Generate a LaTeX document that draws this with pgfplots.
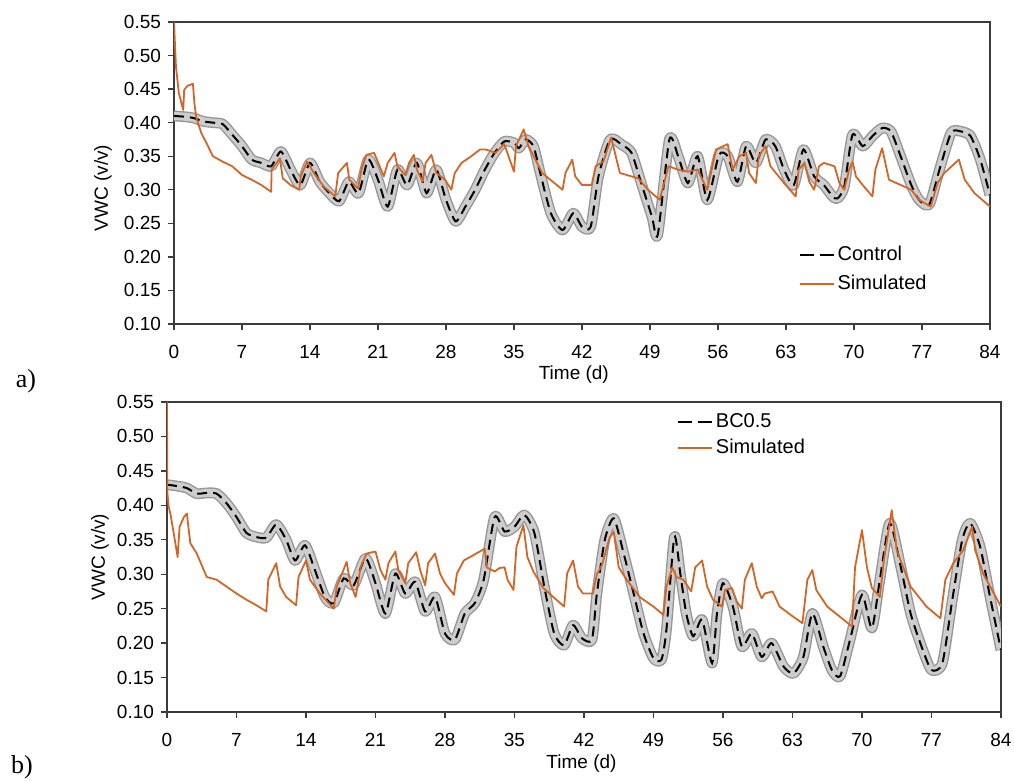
\documentclass[border=0pt]{standalone}
\usepackage{fontspec}
\setmainfont{Liberation Sans}
\newfontfamily\panelfont{Liberation Serif}
\usepackage{pgfplots}
\usepackage{pgfplotstable}
\pgfplotsset{compat=1.18}

\definecolor{simorange}{RGB}{210,102,38}
\definecolor{bandedge}{RGB}{150,150,150}
\definecolor{bandfill}{RGB}{205,205,205}
\definecolor{axisgray}{RGB}{60,60,60}

% measured (Control), panel a
\pgfplotstableread{
x y
0 0.410
1 0.409
2 0.407
3 0.402
4 0.400
5 0.398
6 0.382
7 0.365
8 0.345
9 0.340
10 0.335
11 0.357
12 0.330
13 0.307
14 0.340
15 0.312
16 0.295
17 0.283
18 0.312
19 0.295
20 0.345
21 0.315
22 0.275
23 0.330
24 0.307
25 0.340
26 0.295
27 0.330
28 0.285
29 0.253
30 0.275
31 0.300
32 0.330
33 0.355
34 0.372
35 0.370
35.5 0.362
36.2 0.375
37 0.365
37.7 0.325
38.8 0.265
40 0.240
41.1 0.265
42 0.245
42.9 0.245
43.7 0.320
44.9 0.375
46.1 0.367
47.1 0.355
48.1 0.310
49.2 0.260
49.8 0.233
51 0.375
51.9 0.350
52.9 0.310
53.9 0.350
54.9 0.285
56.1 0.352
57 0.350
58 0.312
58.9 0.365
59.9 0.340
60.9 0.375
61.9 0.365
62.8 0.330
63.8 0.307
64.8 0.360
65.9 0.320
66.9 0.307
67.8 0.290
68.3 0.287
69 0.305
69.85 0.382
70.9 0.365
71.9 0.380
72.9 0.392
73.8 0.387
74.8 0.350
75.9 0.307
76.7 0.285
77.75 0.278
78.8 0.330
80 0.385
81 0.387
82 0.380
83 0.345
84 0.292
}\controldata

% simulated, panel a
\pgfplotstableread{
x y
0 0.550
0.2 0.484
0.5 0.444
0.95 0.419
1.05 0.449
1.4 0.455
1.95 0.458
2.1 0.429
2.3 0.407
2.8 0.385
3.5 0.365
4 0.350
5 0.342
6 0.335
7 0.322
8 0.315
9 0.307
10 0.297
10.05 0.330
10.9 0.347
11.2 0.317
12 0.307
12.9 0.300
13.05 0.320
13.7 0.342
14.4 0.325
15.4 0.305
16.6 0.290
16.9 0.325
17.8 0.340
18.05 0.315
18.95 0.302
19.3 0.330
19.8 0.352
20.6 0.355
21.6 0.320
22 0.340
22.7 0.355
23 0.335
23.8 0.322
24.2 0.340
24.7 0.352
25 0.330
25.6 0.312
25.9 0.340
26.5 0.352
27 0.325
27.9 0.315
28.55 0.300
28.9 0.325
29.6 0.340
30.6 0.350
31.5 0.360
32.1 0.360
33.1 0.355
34 0.368
35 0.327
35.2 0.365
36 0.390
36.5 0.365
37.9 0.325
40 0.300
40.3 0.325
41 0.345
41.3 0.320
42 0.307
43 0.307
43.4 0.335
44.2 0.342
45 0.378
45.9 0.325
47.8 0.317
48.8 0.300
50 0.285
50.9 0.335
51.9 0.330
52.9 0.327
53.9 0.330
54.9 0.300
55.8 0.360
57 0.368
57.5 0.330
58.2 0.350
58.9 0.355
59.2 0.325
59.9 0.310
60.2 0.350
60.9 0.365
61.4 0.335
62.8 0.310
64 0.290
64.3 0.330
64.9 0.340
65.4 0.312
65.9 0.300
66.4 0.335
66.9 0.340
68 0.335
68.5 0.310
69 0.300
69.5 0.330
69.85 0.342
70.2 0.320
70.9 0.307
71.9 0.290
72.2 0.330
72.9 0.362
73.6 0.315
75.9 0.300
76.7 0.285
77.9 0.275
78.6 0.310
79.3 0.325
80.8 0.345
81.4 0.315
82.4 0.295
84 0.275
}\simadata

% measured (BC0.5), panel b
\pgfplotstableread{
x y
0 0.430
1 0.428
2 0.425
3 0.417
4 0.418
5 0.417
6 0.403
7 0.383
8 0.360
9 0.354
10 0.353
11 0.372
12 0.350
12.9 0.320
13.9 0.342
14.9 0.306
15.9 0.267
16.8 0.258
17.8 0.294
18.8 0.284
20 0.323
21 0.287
22 0.243
23 0.301
24 0.272
25 0.289
26 0.246
27 0.267
28 0.214
29 0.205
30 0.243
31 0.258
31.9 0.292
33 0.383
34 0.362
35 0.369
36 0.386
37 0.360
38 0.282
39 0.214
40 0.197
40.9 0.226
41.8 0.207
42.8 0.205
43.3 0.272
44.1 0.350
45 0.381
46 0.330
47 0.272
48 0.214
49 0.178
49.8 0.176
50.3 0.219
51.1 0.354
51.7 0.301
52.3 0.243
53 0.210
53.9 0.234
54.9 0.171
55.4 0.243
56 0.287
57 0.253
57.9 0.195
58.9 0.214
59.9 0.180
60.9 0.200
62.1 0.166
63.1 0.156
64.1 0.180
65 0.243
66.1 0.195
66.97 0.161
67.8 0.152
68.8 0.205
70 0.270
71 0.222
71.8 0.292
72.8 0.374
73.9 0.311
74.9 0.243
76 0.195
77 0.161
78.1 0.171
79.1 0.263
80.1 0.350
80.9 0.374
81.9 0.340
82.9 0.267
84 0.190
}\bcdata

% simulated, panel b
\pgfplotstableread{
x y
0 0.550
0.03 0.420
0.17 0.398
0.34 0.388
0.67 0.360
1.07 0.325
1.27 0.369
1.7 0.383
2 0.388
2.35 0.345
3 0.330
4 0.296
5 0.292
6 0.282
7 0.272
8 0.263
9 0.255
10 0.246
10.2 0.292
11 0.316
11.4 0.282
12 0.267
13 0.255
13.25 0.296
14 0.320
14.4 0.292
15.4 0.272
16.8 0.250
17.1 0.282
18.1 0.318
18.45 0.287
19 0.267
19.5 0.310
20.1 0.330
21 0.333
21.5 0.306
22 0.292
22.3 0.316
23 0.333
23.3 0.306
24 0.287
24.3 0.316
25.1 0.332
25.5 0.306
26 0.284
26.3 0.316
27 0.330
27.5 0.301
28 0.287
28.9 0.270
29.2 0.301
29.9 0.320
30.9 0.328
32 0.337
32.2 0.310
33 0.304
33.5 0.309
34 0.310
34.3 0.292
34.9 0.277
35.2 0.340
35.9 0.371
36.3 0.325
36.9 0.304
37.9 0.280
38.9 0.267
40 0.253
40.3 0.301
40.9 0.320
41.4 0.282
41.9 0.272
42.9 0.272
43.3 0.300
43.8 0.313
44.6 0.354
45 0.361
45.5 0.310
46.3 0.292
47.6 0.267
49 0.253
50 0.241
50.3 0.282
50.9 0.310
51.3 0.296
52 0.292
52.8 0.275
53.2 0.310
53.9 0.320
54.4 0.282
55 0.263
55.9 0.253
56.2 0.277
56.9 0.280
57.4 0.260
57.9 0.250
58.2 0.292
58.9 0.316
59.4 0.282
59.9 0.265
60.2 0.272
61 0.275
61.7 0.253
63.1 0.238
64 0.229
64.5 0.292
65 0.306
65.4 0.277
66.5 0.253
67.8 0.238
69 0.224
69.3 0.310
70 0.364
70.5 0.310
71 0.280
71.8 0.267
72.2 0.320
73 0.393
73.5 0.335
74.9 0.282
76.5 0.253
77.9 0.236
78.4 0.292
79.2 0.316
80.2 0.335
81.1 0.369
81.4 0.335
82.2 0.301
84 0.253
}\simbdata

\pgfplotsset{
  vwc/.style={
    scale only axis,
    xmin=0, xmax=84, ymin=0.10, ymax=0.55,
    xtick={0,7,14,21,28,35,42,49,56,63,70,77,84},
    ytick={0.10,0.15,0.20,0.25,0.30,0.35,0.40,0.45,0.50,0.55},
    xtick pos=left, ytick pos=left,
    tick align=outside, major tick length=3pt,
    axis line style={axisgray, line width=0.7pt},
    tick style={axisgray, line width=0.7pt},
    /pgf/number format/assume math mode=true,
    yticklabel style={/pgf/number format/.cd, fixed, fixed zerofill, precision=2},
    xticklabel style={yshift=-4pt},
    ticklabel style={font=\fontsize{9.5}{11}\selectfont},
    label style={font=\fontsize{9.5}{11}\selectfont},
    xlabel={Time (d)},
    ylabel={VWC (v/v)},
    legend cell align=left,
    legend style={draw=none, fill=none, inner sep=0pt,
      font=\fontsize{10}{12}\selectfont, anchor=north west,
      nodes={inner sep=1.5pt}},
  },
  band1/.style={bandedge, line width=5.4pt, smooth, tension=0.4, forget plot, line join=round},
  band2/.style={bandfill, line width=4pt, smooth, tension=0.4, forget plot, line join=round},
  meas/.style={black, line width=1pt, dash pattern=on 5pt off 3pt, smooth, tension=0.4,
    legend image code/.code={\draw[black, line width=1pt, dash pattern=on 7pt off 3pt] (0pt,0pt) -- (17pt,0pt);}},
  sim/.style={simorange, line width=0.9pt, line join=round,
    legend image code/.code={\draw[simorange, line width=0.9pt] (0pt,0pt) -- (17pt,0pt);}},
}

\begin{document}
\begin{tikzpicture}
\useasboundingbox (0,0) rectangle (507pt,390.5pt);

\begin{axis}[vwc,
  at={(87pt,228.5pt)}, anchor=south west,
  width=408pt, height=151pt,
  xlabel style={at={(axis description cs:0.49,0)}, anchor=center, yshift=-25.5pt},
  ylabel style={at={(axis description cs:-0.087,0.45)}, anchor=center},
  legend style={at={(rel axis cs:0.765,0.27)}, row sep=3pt},
]
\addplot[band1] table {\controldata};
\addplot[band2] table {\controldata};
\addplot[meas] table {\controldata};
\addplot[sim] table {\simadata};
\legend{Control,Simulated}
\end{axis}

\begin{axis}[vwc,
  at={(83.5pt,34.5pt)}, anchor=south west,
  width=417pt, height=155pt,
  xlabel style={at={(axis description cs:0.497,0)}, anchor=center, yshift=-26pt},
  ylabel style={at={(axis description cs:-0.0803,0.5)}, anchor=center},
  legend style={at={(rel axis cs:0.611,0.975)}, row sep=1.5pt},
]
\addplot[band1] table {\bcdata};
\addplot[band2] table {\bcdata};
\addplot[meas] table {\bcdata};
\addplot[sim] table {\simbdata};
\legend{BC0.5,Simulated}
\end{axis}

\node at (13pt,200pt) {\panelfont\fontsize{13}{15}\selectfont a)};
\node at (11pt,7pt) {\panelfont\fontsize{13}{15}\selectfont b)};
\end{tikzpicture}
\end{document}
